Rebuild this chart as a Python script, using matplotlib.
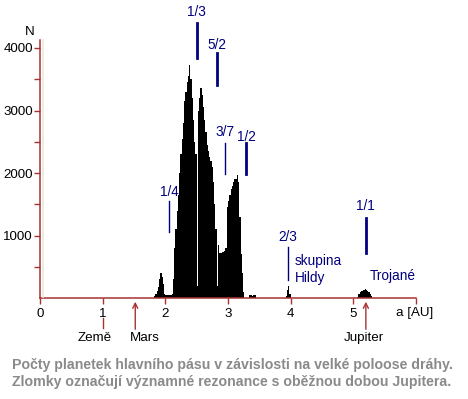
import matplotlib

matplotlib.use("Agg")

import matplotlib.pyplot as plt
import numpy as np
from matplotlib.lines import Line2D

plt.rcParams["font.family"] = ["Liberation Sans", "DejaVu Sans"]

# --- data: asteroid counts per 0.02 AU bin of semi-major axis ----------------
BIN = 0.02
belt_start = 1.80
belt_counts = [
    0, 30, 60, 120, 180, 300, 400, 330, 220, 60,              # 1.80 - 1.98
    50, 50, 50, 50, 50, 60, 300, 800, 1100, 1400,             # 2.00 - 2.18
    1650, 2000, 2300, 2550, 2800, 3150, 3300, 3450, 3550, 3730,  # 2.20 - 2.38
    3500, 3200, 2850, 2500, 2300, 200, 3000, 3200, 3360, 3250,   # 2.40 - 2.58
    3050, 2850, 2650, 2450, 2350, 2250, 2200, 2100, 1850, 1500,  # 2.60 - 2.78
    1100, 200, 850, 720, 720, 730, 740, 760, 800, 1450,          # 2.80 - 2.98
    1550, 1650, 1750, 1800, 1850, 1900, 1900, 1970, 1850, 1300,  # 3.00 - 3.18
    700, 400, 100, 0, 0, 0, 0, 50, 50, 30,                       # 3.20 - 3.38
    50, 50, 0,                                                   # 3.40 - 3.44
]
hilda_start = 3.92
hilda_counts = [40, 130, 200, 60]
trojan_start = 5.06
trojan_counts = [20, 60, 90, 110, 120, 130, 140, 130, 120, 100, 70, 30]

# resonance labels: (text, x, label y, line bottom, line top, thick)
resonances = [
    ("1/3", 2.50, 4576, 3840, 4400, True),
    ("5/2", 2.82, 4048, 3408, 3920, True),
    ("3/7", 2.96, 2656, 1984, 2480, False),
    ("1/2", 3.29, 2576, 1984, 2480, True),
    ("1/4", 2.06, 1696, 1056, 1552, False),
    ("2/3", 3.96, 976, 288, 816, False),
    ("1/1", 5.20, 1472, 720, 1280, True),
]
x_ticks = [0, 1, 2, 3, 4, 5, 6]
x_ticklabels = ["0", "1", "2", "3", "4", "5", ""]
y_ticks = [1000, 2000, 3000, 4000]
y_minor = [500, 1500, 2500, 3500]
planets = [("Mars", 1.52, 1.67), ("Jupiter", 5.20, 5.17)]
caption = ["Počty planetek hlavního pásu v závislosti na velké poloose dráhy.",
           "Zlomky označují významné rezonance s oběžnou dobou Jupitera."]

RED = "#a83232"
NAVY = "#00007f"
W, H = 468, 399
FS = 9.6   # axis text
LFS = 9.8  # resonance / group labels

fig = plt.figure(figsize=(W / 100, H / 100), dpi=100)
ax = fig.add_axes([40 / W, 1 - 298 / H, 376 / W, 258 / H])

for start, counts in [(belt_start, belt_counts), (hilda_start, hilda_counts),
                      (trojan_start, trojan_counts)]:
    edges = start + BIN * np.arange(len(counts) + 1)
    ax.stairs(counts, edges, fill=True, color="black", linewidth=0)

ax.set_xlim(0, 6)
ax.set_ylim(0, 4128)
for side in ("top", "right"):
    ax.spines[side].set_visible(False)
for side in ("left", "bottom"):
    ax.spines[side].set_color(RED)
    ax.spines[side].set_linewidth(1.1)

ax.set_xticks(x_ticks, x_ticklabels)
ax.set_yticks(y_ticks)
ax.set_yticks(y_minor, minor=True)
ax.tick_params(axis="both", which="both", color=RED, length=4, width=1,
               labelsize=FS, direction="out")
ax.tick_params(axis="x", pad=3)
ax.tick_params(axis="y", pad=1)

# pale shadow next to the y axis
fig.add_artist(Line2D([43 / W, 43 / W], [1 - 297 / H, 1 - 40 / H],
                      color="#ebe7da", linewidth=1.2))

for text, x, ty, y0, y1, thick in resonances:
    ax.plot([x, x], [y0, y1], color=NAVY, linewidth=2 if thick else 1,
            clip_on=False)
    ax.text(x, ty, text, color=NAVY, fontsize=LFS, ha="center", va="center",
            clip_on=False)

ax.text(4.07, 592, "skupina", color=NAVY, fontsize=LFS, va="center")
ax.text(4.07, 320, "Hildy", color=NAVY, fontsize=LFS, va="center")
ax.text(5.26, 352, "Trojané", color=NAVY, fontsize=LFS, va="center")

# planets below the axis
for name, x, tx in planets:
    ax.annotate("", xy=(x, -60), xytext=(x, -500), annotation_clip=False,
                arrowprops=dict(arrowstyle="->", color=RED, lw=1,
                                shrinkA=0, shrinkB=0, mutation_scale=9))
    ax.text(tx, -640, name, fontsize=FS, ha="center", va="center", clip_on=False)
ax.plot([1, 1], [-320, -480], color=RED, linewidth=1, clip_on=False)
ax.text(0.88, -640, "Země", fontsize=FS, ha="center", va="center", clip_on=False)
ax.text(5.68, -240, "a [AU]", fontsize=FS, ha="left", va="center", clip_on=False)

fig.text(30 / W, 1 - 32 / H, "N", fontsize=FS, ha="center", va="center")
for i, line in enumerate(caption):
    fig.text(232 / W, 1 - (365 + 17 * i) / H, line, fontsize=10.2, ha="center",
             va="center", color="#8a8a8a", fontweight="bold")

fig.savefig("out.png", dpi=100)
